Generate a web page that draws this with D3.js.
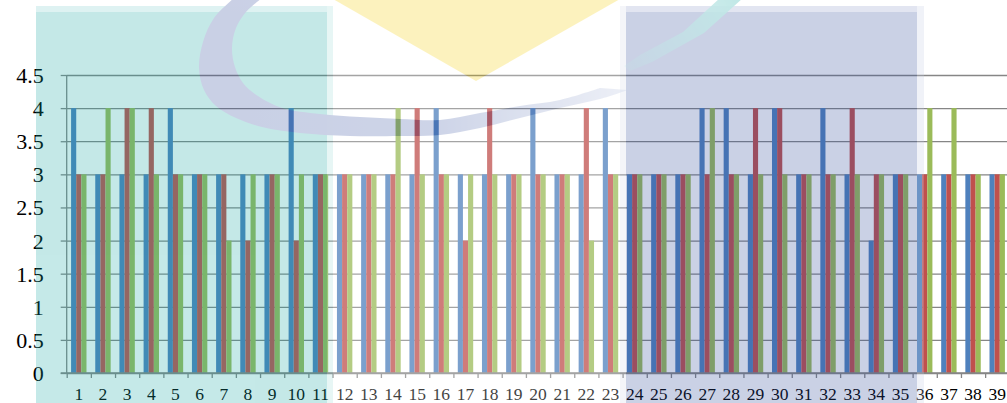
<!DOCTYPE html>
<html>
<head>
<meta charset="utf-8">
<script src="https://cdn.jsdelivr.net/npm/d3@7"></script>
<style>
  html, body { margin: 0; padding: 0; background: #ffffff; }
  svg { display: block; }
  text { font-family: "Liberation Serif", "Times New Roman", serif; }
</style>
</head>
<body>
<svg id="chart" width="1007" height="403"></svg>
<script>
// Item numbers along the x axis
const categories = ["1","2","3","4","5","6","7","8","9","10","11","12","13","14","15","16","17","18","19","20",
  "21","22","23","24","25","26","27","28","29","30","31","32","33","34","35","36","37","38","39"];

// Scores for the three series, one value per item
const seriesBlue  = [4,3,3,3,4,3,3,3,3,4,3,3,3,3,3,4,3,3,3,4,3,3,4,3,3,3,4,4,3,4,3,4,3,2,3,3,3,3,3];
const seriesRed   = [3,3,4,4,3,3,3,2,3,2,3,3,3,3,4,3,2,4,3,3,3,4,3,3,3,3,3,3,4,4,3,3,4,3,3,3,3,3,3];
const seriesGreen = [3,4,4,3,3,3,2,3,3,3,3,3,3,4,3,3,3,3,3,3,3,2,3,3,3,3,4,3,3,3,3,3,3,3,3,4,4,3,3];

const seriesNames = ["blue", "red", "green"];
const seriesValues = [seriesBlue, seriesRed, seriesGreen];
const seriesColors = ["#4f81bd", "#c0504d", "#9bbb59"];

// Value axis ticks
const yTickValues = [0, 0.5, 1, 1.5, 2, 2.5, 3, 3.5, 4, 4.5];
const yTickLabels = ["0", "0.5", "1", "1.5", "2", "2.5", "3", "3.5", "4", "4.5"];

const svg = d3.select("#chart");
const W = 1007, H = 403;
const plot = { left: 66.7, right: 1009.3, top: 75, bottom: 373 };
const gridColor = "#868686";

svg.append("rect").attr("width", W).attr("height", H).attr("fill", "#ffffff");

const x0 = d3.scaleBand()
  .domain(categories)
  .range([plot.left, plot.right])
  .paddingInner(0.363)
  .paddingOuter(0.1815);

const x1 = d3.scaleBand()
  .domain(seriesNames)
  .range([0, x0.bandwidth()])
  .padding(0);

const y = d3.scaleLinear().domain([0, 4.5]).range([plot.bottom, plot.top]);

// Horizontal gridlines
const grid = svg.append("g")
  .attr("transform", `translate(${plot.left},0)`)
  .call(d3.axisLeft(y).tickValues(yTickValues).tickSize(-(plot.right - plot.left)).tickFormat(""));
grid.select(".domain").remove();
grid.selectAll(".tick line").attr("stroke", gridColor).attr("stroke-width", 1.3);

// Bars
const rows = categories.map((c, i) => ({ cat: c, vals: seriesNames.map((s, k) => ({ s, v: seriesValues[k][i], k })) }));
const groups = svg.append("g").selectAll("g")
  .data(rows)
  .join("g")
  .attr("transform", d => `translate(${x0(d.cat)},0)`);
groups.selectAll("rect")
  .data(d => d.vals)
  .join("rect")
  .attr("x", d => x1(d.s))
  .attr("width", x1.bandwidth())
  .attr("y", d => y(d.v))
  .attr("height", d => y(0) - y(d.v))
  .attr("fill", d => seriesColors[d.k]);

// Value axis: outward ticks and labels
const yAxis = svg.append("g")
  .attr("transform", `translate(${plot.left},0)`)
  .call(d3.axisLeft(y).tickValues(yTickValues).tickSize(6).tickPadding(17)
    .tickFormat((d, i) => yTickLabels[i]));
yAxis.select(".domain").attr("stroke", gridColor).attr("stroke-width", 1.3)
  .attr("d", `M0,${plot.top}V${plot.bottom}`);
yAxis.selectAll(".tick line").attr("stroke", gridColor).attr("stroke-width", 1.3);
yAxis.selectAll(".tick text").attr("fill", "#000").style("font-size", "22px").attr("dy", "0.34em");

// Category axis: ticks at item boundaries
const xb = d3.scaleLinear().domain([0, categories.length]).range([plot.left, plot.right]);
const xTicks = svg.append("g")
  .attr("transform", `translate(0,${plot.bottom})`)
  .call(d3.axisBottom(xb).tickValues(d3.range(0, categories.length + 1)).tickSize(5).tickSizeOuter(0).tickFormat(""));
xTicks.select(".domain").attr("stroke", gridColor).attr("stroke-width", 1.3)
  .attr("d", `M${plot.left - 6},0H${plot.right}`);
xTicks.selectAll(".tick line").attr("stroke", gridColor).attr("stroke-width", 1.3);

const xLabels = svg.append("g")
  .attr("transform", `translate(0,${plot.bottom})`)
  .call(d3.axisBottom(x0).tickSize(0).tickPadding(14.6));
xLabels.select(".domain").remove();
xLabels.selectAll(".tick text").attr("fill", "#000").style("font-size", "17.5px");

// Translucent logo backdrop laid over the chart
const defs = svg.append("defs");
const arcGrad = defs.append("linearGradient")
  .attr("id", "arcFade").attr("gradientUnits", "userSpaceOnUse")
  .attr("x1", 200).attr("y1", 0).attr("x2", 630).attr("y2", 0);
arcGrad.append("stop").attr("offset", 0).attr("stop-color", "rgb(45,70,155)").attr("stop-opacity", 1);
arcGrad.append("stop").attr("offset", 0.55).attr("stop-color", "rgb(50,78,160)").attr("stop-opacity", 0.95);
arcGrad.append("stop").attr("offset", 1).attr("stop-color", "rgb(60,90,170)").attr("stop-opacity", 0.35);

const stripeGrad = defs.append("linearGradient")
  .attr("id", "stripeFade").attr("gradientUnits", "userSpaceOnUse")
  .attr("x1", 740).attr("y1", 0).attr("x2", 630).attr("y2", 70);
stripeGrad.append("stop").attr("offset", 0).attr("stop-color", "rgb(10,165,160)").attr("stop-opacity", 1);
stripeGrad.append("stop").attr("offset", 1).attr("stop-color", "rgb(10,165,160)").attr("stop-opacity", 0.2);

const logo = svg.append("g").attr("opacity", 0.25).style("pointer-events", "none");
// centre panel
logo.append("rect").attr("x", 327).attr("y", 0).attr("width", 299).attr("height", H).attr("fill", "#ffffff");
// left teal panel
logo.append("rect").attr("x", 36).attr("y", 12).attr("width", 291).attr("height", H - 12).attr("fill", "rgb(23,167,163)");
logo.append("rect").attr("x", 36).attr("y", 6).attr("width", 291).attr("height", 6).attr("fill", "rgb(23,167,163)").attr("opacity", 0.55);
logo.append("rect").attr("x", 327).attr("y", 6).attr("width", 6).attr("height", H - 6).attr("fill", "rgb(23,167,163)").attr("opacity", 0.4);
// right navy panel
logo.append("rect").attr("x", 626).attr("y", 12).attr("width", 291).attr("height", H - 12).attr("fill", "rgb(47,75,155)");
logo.append("rect").attr("x", 626).attr("y", 6).attr("width", 291).attr("height", 6).attr("fill", "rgb(47,75,155)").attr("opacity", 0.55);
logo.append("rect").attr("x", 620).attr("y", 6).attr("width", 6).attr("height", H - 6).attr("fill", "rgb(47,75,155)").attr("opacity", 0.2);
logo.append("rect").attr("x", 917).attr("y", 6).attr("width", 7).attr("height", H - 6).attr("fill", "rgb(196,204,228)");
// gold triangle
logo.append("path").attr("d", "M333,-1L620,-1L476,81Z").attr("fill", "rgb(247,207,0)");
// swoosh
const outerEdge = [[234,-2],[214,18],[203,42],[199,68],[204,90],[216,106],[236,118],[262,127],[300,133],[350,136],
  [400,136],[440,135],[480,128],[520,118],[560,108],[600,99],[628,90]];
const innerEdge = [[600,88],[560,100],[520,106],[480,113],[440,120],[400,119],[360,117],[320,114],[282,108],
  [258,96],[243,83],[235,67],[232,48],[236,28],[246,12],[262,-2]];
const edgeLine = d3.line().curve(d3.curveCatmullRom);
logo.append("path")
  .attr("d", edgeLine(outerEdge) + "L" + edgeLine(innerEdge).slice(1) + "Z")
  .attr("fill", "url(#arcFade)");
logo.append("path")
  .attr("d", "M720,-2L743,-2L704,33L652,62L630,71L624,66L640,55L683,32Z")
  .attr("fill", "url(#stripeFade)");
</script>
</body>
</html>
